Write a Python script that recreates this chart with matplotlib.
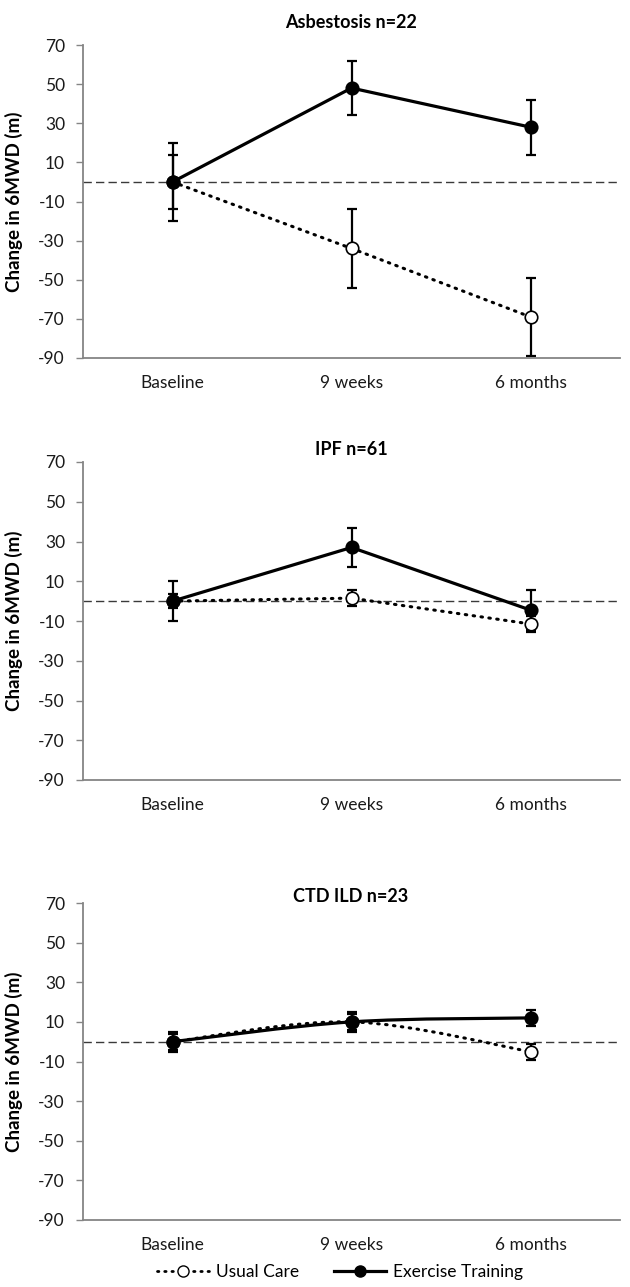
"""6MWD change over time, three ILD subgroups (Usual Care vs Exercise Training)"""
import numpy as np
import matplotlib.pyplot as plt
from matplotlib.path import Path
from matplotlib.patches import PathPatch
from matplotlib.lines import Line2D

plt.rcParams['font.family'] = ['Lato', 'DejaVu Sans']
plt.rcParams['axes.unicode_minus'] = False

# 数据
timepoints = ["Baseline", "9 weeks", "6 months"]
titles = ["Asbestosis n=22", "IPF n=61", "CTD ILD n=23"]

usual_mean = [[0, -34, -69], [0, 1.5, -11.5], [0, 10, -5]]
usual_err = [[20, 20, 20], [3.5, 4, 4], [4, 4, 4]]
exercise_mean = [[0, 48, 28], [0, 27, -4.5], [0, 10, 12]]
exercise_err = [[14, 14, 14], [10, 10, 10], [5, 5, 4]]
smooth = [False, False, True]   # Excel "smoothed line" in the last panel

yticks = list(range(-90, 71, 20))

W, H = 630, 1287
fig = plt.figure(figsize=(W / 100, H / 100), dpi=100)

# (top, bottom) of each plot area in pixels
boxes = [(45, 358), (462, 780), (903, 1220)]
title_y = [22, 450, 897]
left_px, right_px = 83, 620
spine_col = "#858585"
dots = (0, (0.5, 2.1))


def smooth_path(x, y):
    # Catmull-Rom style bezier through the points (same as Excel smoothing)
    pts = np.column_stack([x, y]).astype(float)
    verts = [pts[0]]
    codes = [Path.MOVETO]
    n = len(pts)
    for i in range(n - 1):
        p0 = pts[i - 1] if i > 0 else pts[i]
        p1 = pts[i]
        p2 = pts[i + 1]
        p3 = pts[i + 2] if i + 2 < n else pts[i + 1]
        c1 = p1 + (p2 - p0) / 6.0
        c2 = p2 - (p3 - p1) / 6.0
        verts += [c1, c2, p2]
        codes += [Path.CURVE4] * 3
    return Path(verts, codes)


xs = np.arange(len(timepoints))

for i in range(3):
    top, bot = boxes[i]
    ax = fig.add_axes([left_px / W, 1 - bot / H, (right_px - left_px) / W, (bot - top) / H])

    ax.axhline(0, color="#3a3a3a", lw=1.0, ls=(0, (6, 3)), zorder=1)

    for mean, err, ls, face, lw in [
        (usual_mean[i], usual_err[i], dots, "white", 2.2),
        (exercise_mean[i], exercise_err[i], "-", "black", 2.3),
    ]:
        ax.errorbar(xs, mean, yerr=err, fmt="none", ecolor="black",
                    elinewidth=1.6, capsize=3.5, capthick=1.6, zorder=2)
        if smooth[i]:
            patch = PathPatch(smooth_path(xs, mean), fill=False, lw=lw,
                              ls=ls, ec="black", capstyle="round", zorder=3)
            ax.add_patch(patch)
        else:
            ax.plot(xs, mean, color="black", lw=lw, ls=ls,
                    dash_capstyle="round", zorder=3)
        ax.plot(xs, mean, ls="none", marker="o", ms=9, mfc=face,
                mec="black", mew=1.2, zorder=4)

    ax.set_xlim(-0.5, 2.5)
    ax.set_ylim(-90, 70)
    ax.set_yticks(yticks)
    ax.set_xticks(xs)
    ax.set_xticklabels(timepoints)
    ax.tick_params(axis="y", length=5, width=1.0, color=spine_col, pad=8,
                   labelsize=12.5, labelcolor="#1a1a1a")
    ax.tick_params(axis="x", length=0, pad=12, labelsize=12.5,
                   labelcolor="#1a1a1a")
    for s in ["top", "right"]:
        ax.spines[s].set_visible(False)
    for s in ["left", "bottom"]:
        ax.spines[s].set_color(spine_col)
        ax.spines[s].set_linewidth(1.3)
    ax.set_ylabel("Change in 6MWD (m)", fontsize=13.5, fontweight="bold")
    ax.yaxis.set_label_coords((23 - left_px) / (right_px - left_px), 0.5)

    fig.text(351 / W, 1 - title_y[i] / H, titles[i], ha="center", va="center",
             fontsize=13, fontweight="bold")

# 图例
handles = [
    Line2D([], [], color="black", lw=2.0, ls=dots, marker="o",
           ms=8, mfc="white", mec="black", dash_capstyle="round"),
    Line2D([], [], color="black", lw=2.3, ls="-", marker="o", ms=8,
           mfc="black", mec="black"),
]
fig.legend(handles, ["Usual Care", "Exercise Training"], loc="center",
           bbox_to_anchor=(340 / W, 1 - 1272 / H), ncol=2, frameon=False,
           fontsize=12.5, handlelength=3.0, handletextpad=0.4, columnspacing=2.0)

fig.savefig("out.png", dpi=100)
